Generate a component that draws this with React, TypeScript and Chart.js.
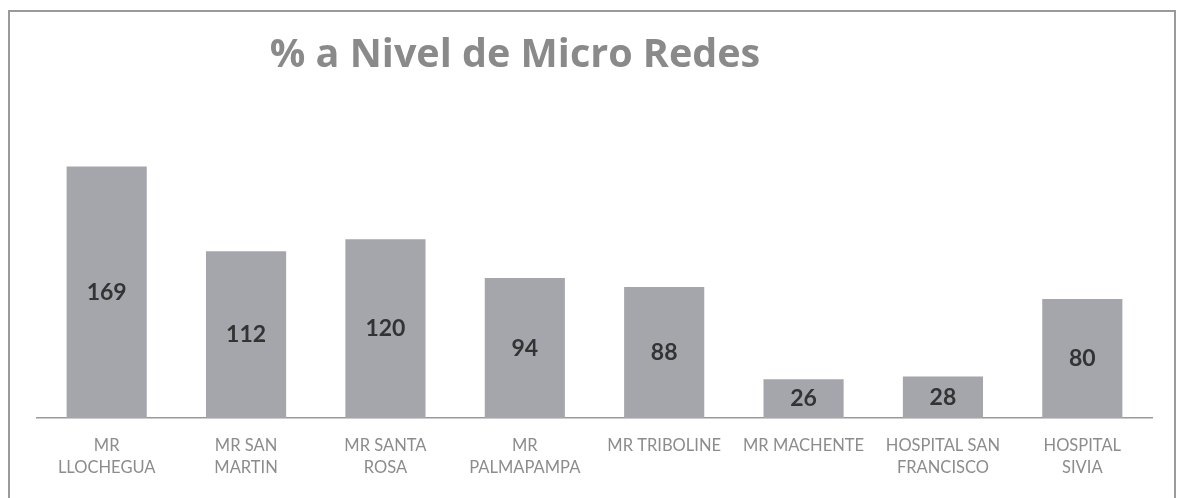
import React, { useEffect, useRef } from "react";
import { Chart, registerables } from "chart.js";

Chart.register(...registerables);

const categories: (string | string[])[] = [
  ["MR", "LLOCHEGUA"],
  ["MR SAN", "MARTIN"],
  ["MR SANTA", "ROSA"],
  ["MR", "PALMAPAMPA"],
  "MR TRIBOLINE",
  "MR MACHENTE",
  ["HOSPITAL SAN", "FRANCISCO"],
  ["HOSPITAL", "SIVIA"],
];
const values: number[] = [169, 112, 120, 94, 88, 26, 28, 80];
const titleText = "% a Nivel de Micro Redes";

const barLabels = {
  id: "barLabels",
  afterDatasetsDraw(chart: any) {
    const ctx = chart.ctx;
    const meta = chart.getDatasetMeta(0);
    ctx.save();
    ctx.font = "bold 23px Lato";
    ctx.fillStyle = "#333333";
    ctx.textAlign = "center";
    ctx.textBaseline = "middle";
    meta.data.forEach((bar: any, i: number) => {
      const y = (bar.y + bar.base) / 2;
      ctx.fillText(String(values[i]), bar.x, y);
    });
    ctx.restore();
  },
};

const titlePlugin = {
  id: "customTitle",
  afterDraw(chart: any) {
    const ctx = chart.ctx;
    ctx.save();
    ctx.font = "bold 39.5px 'Open Sans'";
    ctx.fillStyle = "#8a8a8a";
    ctx.textAlign = "center";
    ctx.textBaseline = "alphabetic";
    ctx.fillText(titleText, 505, 55);
    ctx.restore();
  },
};

export default function App() {
  const ref = useRef<HTMLCanvasElement | null>(null);
  useEffect(() => {
    if (!ref.current) return;
    const chart = new Chart(ref.current, {
      type: "bar",
      data: {
        labels: categories,
        datasets: [
          {
            data: values,
            backgroundColor: "#a4a6ac",
            categoryPercentage: 1,
            barPercentage: 0.575,
          },
        ],
      },
      options: {
        animation: false,
        responsive: false,
        layout: { padding: { left: 27, right: 22, top: 138, bottom: 3 } },
        plugins: {
          legend: { display: false },
          title: { display: false },
          tooltip: { enabled: false },
        },
        scales: {
          x: {
            grid: { display: false, drawTicks: false },
            border: { display: true, color: "#9a9a9a", width: 1.5 },
            ticks: {
              color: "#8c8c8c",
              font: { family: "Lato", size: 16.5, lineHeight: 1.3 },
              padding: 17,
              maxRotation: 0,
              autoSkip: false,
            },
          },
          y: {
            display: false,
            min: 0,
            max: 180,
          },
        },
      },
      plugins: [barLabels, titlePlugin],
    });
    return () => chart.destroy();
  }, []);

  return (
    <div
      style={{
        position: "absolute",
        left: 8,
        top: 10,
        width: 1164,
        height: 486,
        border: "2px solid #9a9a9a",
        background: "#ffffff",
      }}
    >
      <canvas ref={ref} width={1164} height={486} style={{ display: "block" }} />
    </div>
  );
}
